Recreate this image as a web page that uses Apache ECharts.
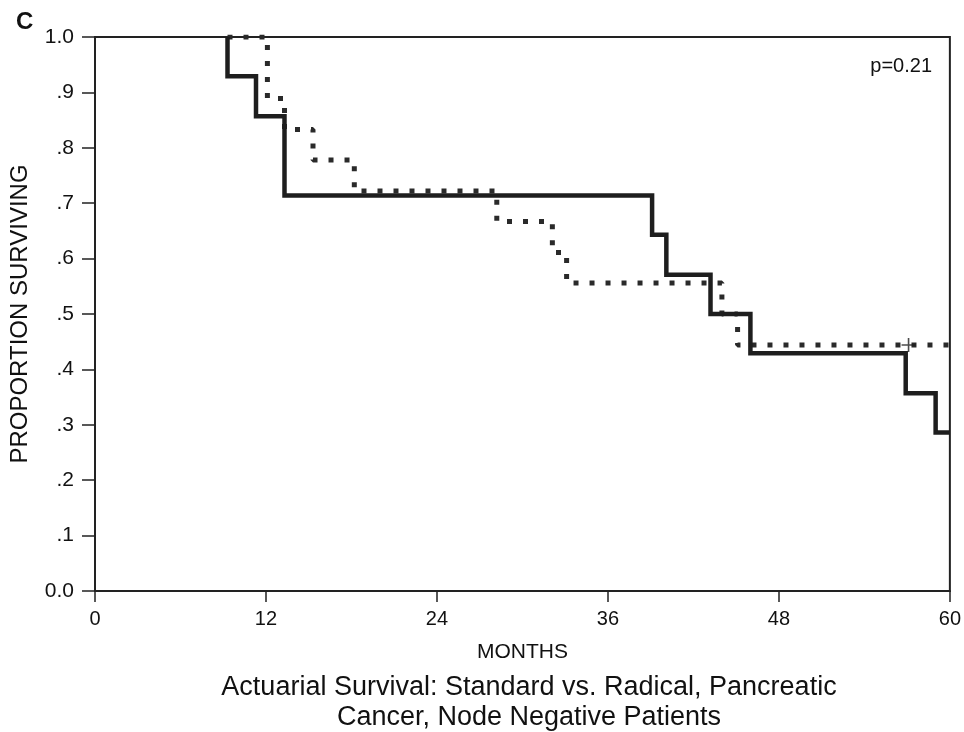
<!DOCTYPE html>
<html>
<head>
<meta charset="utf-8">
<script src="https://cdn.jsdelivr.net/npm/echarts@6/dist/echarts.min.js"></script>
<style>
  html, body { margin: 0; padding: 0; background: #fff; }
  #chart { width: 964px; height: 732px; }
</style>
</head>
<body>
<div id="chart"></div>
<script>
// actuarial survival, node negative patients (months, proportion surviving)
var standardMonths = [9.3, 9.3, 11.3, 13.3, 39.1, 40.1, 43.2, 46.0, 56.9, 59.0, 60];
var standardValues = [1.0, 0.929, 0.857, 0.714, 0.643, 0.571, 0.5, 0.429, 0.357, 0.286, 0.286];

var radicalMonths = [9.3, 12.1, 13.3, 15.3, 18.2, 28.2, 32.1, 33.1, 44.0, 45.1, 60];
var radicalValues = [1.0, 0.889, 0.833, 0.778, 0.722, 0.667, 0.611, 0.556, 0.5, 0.444, 0.444];

// censored observation on the radical curve
var censorMonths = [57.1];
var censorValues = [0.444];

var xTicks = [0, 12, 24, 36, 48, 60];

function pairs(xs, ys) {
  var out = [];
  for (var i = 0; i < xs.length; i++) out.push([xs[i], ys[i]]);
  return out;
}

var font = 'Liberation Sans, Arial, sans-serif';
var ink = '#222';

var myChart = echarts.init(document.getElementById('chart'));

var option = {
  backgroundColor: '#fff',
  animation: false,
  grid: {
    left: 95, right: 12, top: 37, bottom: 141,
    show: true, borderColor: ink, borderWidth: 2
  },
  title: [
    { text: 'C', left: 11, top: 5, textStyle: { fontFamily: font, fontSize: 24, fontWeight: 'bold', color: '#111' } },
    { text: 'p=0.21', right: 27, top: 51, textStyle: { fontFamily: font, fontSize: 20, fontWeight: 'normal', color: '#111' } },
    {
      text: 'Actuarial Survival: Standard vs. Radical, Pancreatic\nCancer, Node Negative Patients',
      left: 524, top: 668, textAlign: 'center',
      textStyle: { fontFamily: font, fontSize: 27, fontWeight: 'normal', color: '#111', lineHeight: 30 }
    }
  ],
  xAxis: {
    type: 'value', min: 0, max: 60, interval: 12,
    name: 'MONTHS', nameLocation: 'middle', nameGap: 51,
    nameTextStyle: { fontFamily: font, fontSize: 21, color: '#111' },
    axisLine: { lineStyle: { color: ink, width: 2 } },
    axisTick: { length: 11, lineStyle: { color: ink, width: 1.5 } },
    axisLabel: {
      fontFamily: font, fontSize: 20, color: '#111', margin: 18,
      customValues: xTicks
    },
    splitLine: { show: false }
  },
  yAxis: {
    type: 'value', min: 0, max: 1, interval: 0.1,
    name: 'PROPORTION SURVIVING', nameLocation: 'middle', nameGap: 63, nameRotate: 90,
    nameTextStyle: { fontFamily: font, fontSize: 24, color: '#111' },
    axisLine: { show: true, lineStyle: { color: ink, width: 2 } },
    axisTick: { show: true, length: 13, lineStyle: { color: ink, width: 1.5 } },
    axisLabel: {
      fontFamily: font, fontSize: 21, color: '#111', margin: 21,
      formatter: function (v) {
        if (v === 0) return '0.0';
        if (v === 1) return '1.0';
        return v.toFixed(1).replace(/^0/, '');
      }
    },
    splitLine: { show: false }
  },
  series: [
    {
      name: 'Radical', type: 'line', step: 'end', symbol: 'none',
      data: pairs(radicalMonths, radicalValues),
      lineStyle: { color: '#2a2a2a', width: 5, type: [5, 11], cap: 'butt' },
      z: 2
    },
    {
      name: 'Standard', type: 'line', step: 'end', symbol: 'none',
      data: pairs(standardMonths, standardValues),
      lineStyle: { color: '#1e1e1e', width: 4.5, join: 'miter' },
      z: 3
    },
    {
      name: 'Censored', type: 'scatter',
      data: pairs(censorMonths, censorValues),
      symbol: 'path://M-0.8,-7 h1.6 v6.2 h6.2 v1.6 h-6.2 v6.2 h-1.6 v-6.2 h-6.2 v-1.6 h6.2 z',
      symbolSize: 14,
      itemStyle: { color: '#1e1e1e' },
      z: 4
    }
  ]
};

myChart.setOption(option);
</script>
</body>
</html>
